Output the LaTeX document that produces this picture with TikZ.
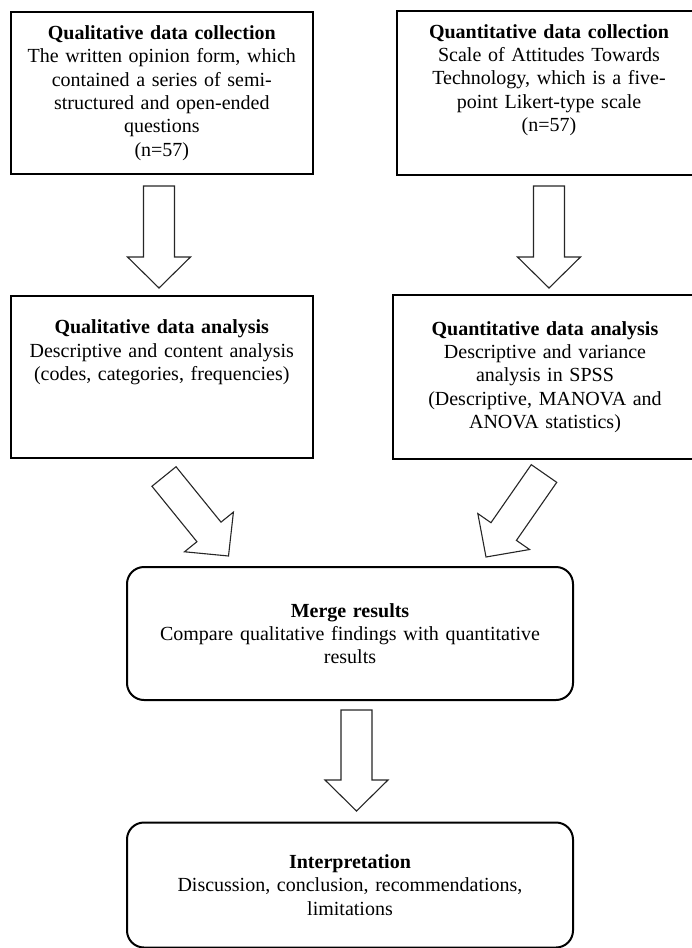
\documentclass[tikz,border=0pt]{standalone}
\usepackage{fontspec}
\setmainfont{Liberation Serif}
\usepackage{tikz}
\usetikzlibrary{calc}

% hollow block arrow from #1 (tail) to #2 (tip)
\newcommand{\blockarrow}[2]{%
  \coordinate (hb) at ($(#2)!31pt!(#1)$);
  \draw[barrow] ($(#1)!15.5pt!90:(#2)$) -- ($(hb)!15.5pt!90:(#2)$) -- ($(hb)!31.5pt!90:(#2)$)
    -- (#2) -- ($(hb)!31.5pt!-90:(#2)$) -- ($(hb)!15.5pt!-90:(#2)$) -- ($(#1)!15.5pt!-90:(#2)$) -- cycle;}

\begin{document}
\begin{tikzpicture}[x=1pt, y=-1pt,
  box/.style={draw, line width=2pt, align=center, inner sep=4pt, text width=292pt,
    minimum width=302pt, minimum height=162pt, font=\fontsize{20}{23.3}\selectfont},
  openbox/.style={box, draw=none},
  rbox/.style={box, rounded corners=17pt, text width=436pt, minimum width=446pt},
  barrow/.style={draw=black!85, line width=1.1pt, fill=white, line join=miter}]
  \useasboundingbox (0,0) rectangle (692,948);
  \clip (0,0) rectangle (692,948);
  % data collection
  \node[box] (qlcol) at (161.8,93) {\textbf{Qualitative data collection}\\
    The written opinion form, which\\ contained a series of semi-\\
    structured and open-ended\\ questions\\ (n=57)};
  \node[openbox] (qtcol) at (549,93) {\textbf{Quantitative data collection}\\
    Scale of Attitudes Towards\\ Technology, which is a five-\\
    point Likert-type scale\\ (n=57)\\ \strut};
  \draw[line width=2pt] (qtcol.north east) -- (qtcol.north west) -- (qtcol.south west) -- (qtcol.south east);
  % data analysis
  \node[box] (qlana) at (161.8,377) {\textbf{Qualitative data analysis}\\
    Descriptive and content analysis\\ (codes, categories, frequencies)\\ \strut\\ \strut};
  \node[openbox] (qtana) at (545,377) {\textbf{Quantitative data analysis}\\
    Descriptive and variance\\ analysis in SPSS\\
    (Descriptive, MANOVA and\\ ANOVA statistics)};
  \draw[line width=2pt] (qtana.north east) -- (qtana.north west) -- (qtana.south west) -- (qtana.south east);
  % merge and interpretation
  \node[rbox, minimum height=133pt] (merge) at (350,633.5) {\textbf{Merge results}\\
    Compare qualitative findings with quantitative\\ results};
  \node[rbox, minimum height=125pt] (interp) at (350,885) {\textbf{Interpretation}\\
    Discussion, conclusion, recommendations,\\ limitations};
  % arrow ends
  \coordinate (a1s) at (159,186);   \coordinate (a1e) at (159,288);
  \coordinate (a2s) at (549,186);   \coordinate (a2e) at (549,288);
  \coordinate (a3s) at (164,476.5); \coordinate (a3e) at (228.5,556);
  \coordinate (a4s) at (544,473.5); \coordinate (a4e) at (486,557);
  \coordinate (a5s) at (356.5,710); \coordinate (a5e) at (356.5,811);
  \blockarrow{a1s}{a1e}
  \blockarrow{a2s}{a2e}
  \blockarrow{a3s}{a3e}
  \blockarrow{a4s}{a4e}
  \blockarrow{a5s}{a5e}
\end{tikzpicture}
\end{document}
